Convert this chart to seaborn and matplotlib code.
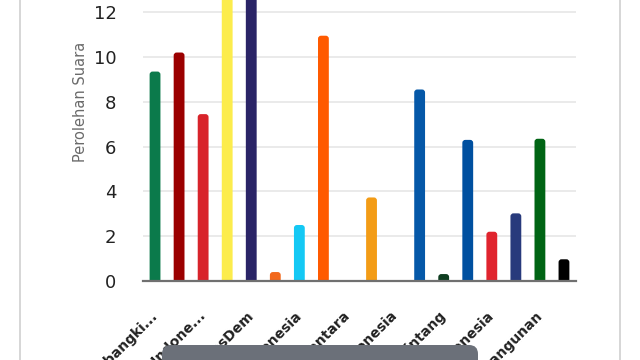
import matplotlib
matplotlib.use("Agg")
import matplotlib.pyplot as plt
import seaborn as sns
import pandas as pd
from matplotlib.patches import FancyBboxPatch
from matplotlib.lines import Line2D

parties = ["PKB", "Gerindra", "PDI-P", "Golkar", "NasDem", "Buruh", "Gelora", "PKS",
           "PKN", "Hanura", "Garuda", "PAN", "PBB", "Demokrat", "PSI", "Perindo", "PPP", "Ummat"]
tick_labels = ["Partai Kebangki...", "Partai Gerakan Indone...", "Partai Demokrasi Indone...",
               "Partai Golongan Karya", "Partai NasDem", "Partai Buruh",
               "Partai Gelora Indonesia", "Partai Keadilan Sejahtera",
               "Partai Kebangkitan Nusantara", "Partai Hanura",
               "Partai Garda Republik Indonesia", "Partai Amanat Nasional",
               "Partai Bulan Bintang", "Partai Demokrat", "Partai Solidaritas Indonesia",
               "Partai Perindo", "Partai Persatuan Pembangunan", "Partai Ummat"]
votes = [9.35, 10.2, 7.45, 14.8, 14.2, 0.4, 2.5, 10.95,
         0.02, 3.73, 0.02, 8.55, 0.31, 6.3, 2.2, 3.02, 6.35, 0.97]
colors = ["#0b7a4b", "#9b0000", "#d8232a", "#fcec4c", "#2a2466", "#f2681c", "#14c8f4", "#ff5a00",
          "#c0392b", "#f39c16", "#8b1a1a", "#0558a8", "#0e3d20", "#0050a0", "#e0242e", "#283a7c",
          "#006414", "#000000"]

df = pd.DataFrame({"party": parties, "votes": votes})

sns.set_theme(style="white")
plt.rcParams['font.family'] = ['DejaVu Sans']

fig = plt.figure(figsize=(6.4, 3.6), dpi=100)
ax = fig.add_axes([143/640, 79/360, 433/640, (79 + 77.4) / 360 + 0.7806 - 79/360 + 0.0])
# set exact position
ax.set_position([143/640, 79/360, 433/640, (281 + 77.4) / 360])

sns.barplot(data=df, x="party", y="votes", hue="party", palette=colors, legend=False,
            width=0.45, ax=ax, saturation=1)

ax.set_ylim(0, 16)
ax.set_xlim(-0.5, len(parties) - 0.5)

# round bar tops
r_px = 3.0
x_unit = 433 / len(parties)
y_unit = 358.4 / 16
for p in list(ax.patches):
    x, w, h = p.get_x(), p.get_width(), p.get_height()
    fc = p.get_facecolor()
    p.remove()
    if h * y_unit < 2 * r_px:
        if h * y_unit < 1:
            continue
    rx = r_px / x_unit
    ry = r_px / y_unit
    box = FancyBboxPatch((x, -ry), w, h + ry,
                         boxstyle=f"round,pad=0,rounding_size={rx}",
                         mutation_aspect=ry / rx, facecolor=fc, edgecolor="none",
                         linewidth=0, zorder=2)
    ax.add_patch(box)

ax.set_yticks(range(0, 17, 2))
ax.yaxis.grid(True, color="#e4e4e4", linewidth=1.1)
ax.xaxis.grid(False)
ax.set_axisbelow(True)
for s in ["top", "right", "left"]:
    ax.spines[s].set_visible(False)
ax.spines["bottom"].set_color("#707070")
ax.spines["bottom"].set_linewidth(1.6)
ax.spines["bottom"].set_zorder(3)

ax.tick_params(axis="y", length=0, pad=19, labelsize=13, labelcolor="#222222")
ax.set_xticks(range(0, len(parties), 2))
ax.set_xticklabels(tick_labels[::2], rotation=45, ha="right", va="center",
                   rotation_mode="anchor", fontsize=10, fontweight="bold", color="#222222")
ax.tick_params(axis="x", length=0, pad=24)

ax.set_xlabel("")
ax.set_ylabel("Perolehan Suara", fontsize=10.5, color="#6a6a6a")
ax.yaxis.set_label_coords(-0.128, 0.5)

# card borders
fig.add_artist(Line2D([20/640, 20/640], [0, 1], color="#d0d0d0", linewidth=1.2))
fig.add_artist(Line2D([620/640, 620/640], [0, 1], color="#d0d0d0", linewidth=1.2))

# overlay grey rounded box at bottom
ov = FancyBboxPatch((162/640, -20/360), (478 - 162)/640, (20 + 15)/360,
                    boxstyle="round,pad=0,rounding_size=0.014",
                    mutation_aspect=640/360,
                    transform=fig.transFigure, facecolor="#6b7079", edgecolor="none", zorder=10)
fig.add_artist(ov)

fig.savefig("out.png", dpi=100)
